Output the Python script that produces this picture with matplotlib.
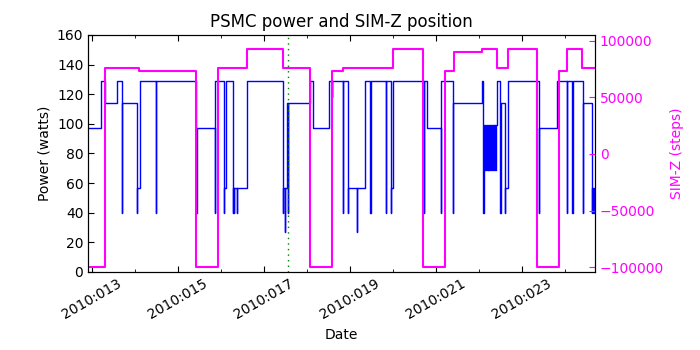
import matplotlib
matplotlib.use("Agg")
import matplotlib.pyplot as plt
from matplotlib.ticker import MultipleLocator, FuncFormatter

# day of year 2010 (step changes) and PSMC power in watts
power_day = [12.90, 13.21, 13.31, 13.58, 13.70, 13.705, 14.06, 14.065, 14.12,
             14.49, 14.495, 15.43, 15.44, 15.87, 15.875, 16.07, 16.075, 16.13,
             16.28, 16.285, 16.31, 16.315, 16.37, 16.375, 16.60,
             17.44, 17.445, 17.49, 17.495, 17.53, 17.565, 17.57, 18.07, 18.15,
             18.52, 18.58, 18.585, 18.83, 18.835, 18.95, 18.955, 19.16, 19.165,
             19.35, 19.48, 19.485, 19.84, 19.845, 19.95, 19.955, 20.01,
             20.72, 20.725, 20.79, 21.11, 21.125, 21.40, 21.405, 22.08, 22.10,
             22.12, 22.14, 22.16, 22.18, 22.20, 22.22, 22.24, 22.26, 22.28,
             22.30, 22.32, 22.34, 22.36, 22.38, 22.40,
             22.41, 22.50, 22.505, 22.60, 22.61, 22.615, 22.67,
             23.40, 23.405, 23.81, 24.04, 24.045, 24.17, 24.175, 24.41, 24.415,
             24.62, 24.625, 24.66, 24.665, 24.69, 24.695, 24.75]
power_watts = [97, 129, 114, 129, 40, 114, 40, 57, 129,
               40, 129, 40, 97, 40, 129, 40, 57, 129,
               40, 57, 40, 57, 40, 57, 129,
               40, 57, 27, 57, 114, 40, 114, 129, 97,
               129, 118, 129, 40, 129, 40, 57, 27, 57,
               129, 40, 129, 40, 129, 40, 57, 129,
               40, 129, 97, 40, 129, 40, 114, 129, 40,
               99, 69, 99, 69, 99, 69, 99, 69, 99,
               69, 99, 69, 99, 69, 99,
               129, 40, 114, 57, 40, 57, 129,
               40, 97, 129, 40, 129, 40, 129, 40, 114,
               40, 57, 40, 57, 40, 57, 57]

# SIM-Z position (steps)
simz_day = [12.90, 13.31, 14.106, 15.424, 15.942, 16.616, 17.453, 18.073,
            18.58, 18.833, 20.009, 20.706, 21.211, 21.42, 22.077, 22.412,
            22.682, 23.356, 23.86, 24.039, 24.40, 24.75]
simz_steps = [-99616, 75624, 73000, -99616, 75624, 92904, 75624, -99616,
              73000, 75624, 92904, -99616, 73000, 89840, 92904, 75624,
              92904, -99616, 73000, 92904, 75624, 75624]

event_day = 17.555

plt.rcParams['xtick.direction'] = 'in'
plt.rcParams['ytick.direction'] = 'in'
plt.rcParams['xtick.top'] = True
plt.rcParams['xtick.major.size'] = 4
plt.rcParams['xtick.minor.size'] = 2
plt.rcParams['ytick.major.size'] = 4
plt.rcParams['font.size'] = 10

fig = plt.figure(figsize=(7, 3.5), dpi=100)
ax1 = fig.add_subplot(111)
fig.subplots_adjust(left=0.126, right=0.85, bottom=0.223, top=0.9)

ax1.plot(power_day, power_watts, color='b', lw=1.0, drawstyle='steps-post')
ax1.axvline(event_day, color='g', ls=(0, (1, 3)), lw=1.0)
ax1.set_xlim(12.921, 24.697)
ax1.set_ylim(0, 160)
ax1.set_ylabel('Power (watts)')
ax1.set_xlabel('Date')
ax1.set_title('PSMC power and SIM-Z position', fontsize=12)
ax1.xaxis.set_major_locator(MultipleLocator(2, offset=1))
ax1.xaxis.set_minor_locator(MultipleLocator(1))
ax1.xaxis.set_major_formatter(FuncFormatter(lambda d, pos: '2010:%03d' % round(d)))
for lab in ax1.get_xticklabels():
    lab.set_rotation(30)
    lab.set_ha('center')

ax2 = ax1.twinx()
ax2.plot(simz_day, simz_steps, color='#ff00ff', lw=1.5, drawstyle='steps-post')
ax2.set_ylim(-104240, 105120)
ax2.set_ylabel('SIM-Z (steps)', color='#ff00ff')
ax2.tick_params(axis='y', colors='#ff00ff', direction='in')
ax2.set_xlim(12.921, 24.697)

fig.savefig('out.png', dpi=100)
